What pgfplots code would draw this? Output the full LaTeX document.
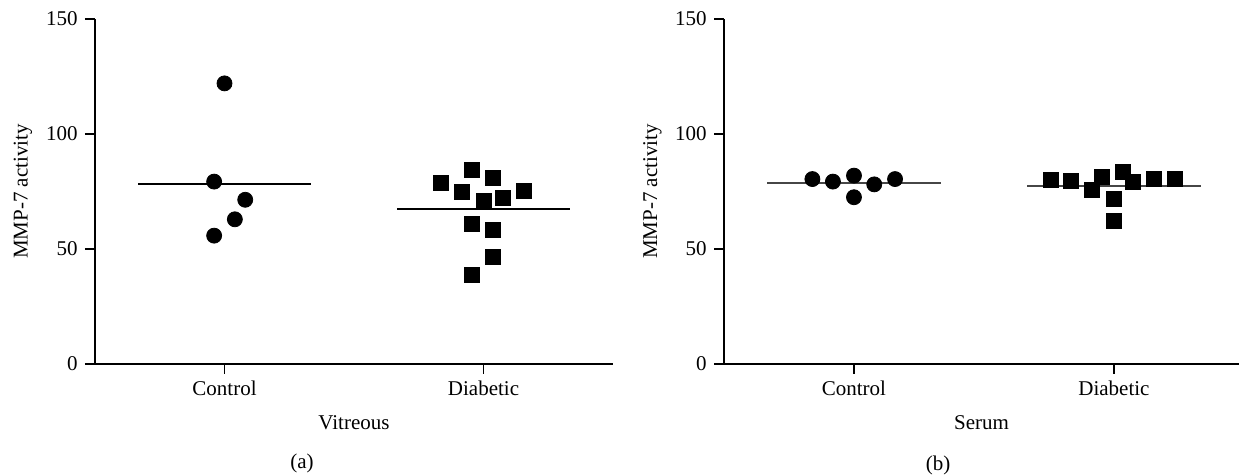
\documentclass[border=0pt]{standalone}
\usepackage{fontspec}
\setmainfont{Liberation Serif}
\usepackage{pgfplots}
\pgfplotsset{compat=1.18}
\definecolor{MEANB}{RGB}{70,70,70}

\pgfplotsset{mmp/.style={
    scale only axis,
    anchor=south west,
    height=172.5pt,
    axis x line*=bottom,
    axis y line*=left,
    axis line style={line width=0.9pt},
    every tick/.style={black, line width=0.9pt},
    tick align=outside,
    major tick length=5pt,
    ymin=0, ymax=150,
    ytick={0,50,100,150},
    xmin=-0.5,
    xtick={0,1},
    xticklabels={Control,Diabetic},
    /pgf/number format/assume math mode=true,
    ylabel={MMP-7 activity},
    every axis y label/.style={at={(axis description cs:-0.139,0.5)}, rotate=90, anchor=center},
    every axis x label/.style={at={(axis description cs:0.5,-0.171)}, anchor=center},
    clip=false,
}}

\begin{document}
\fontsize{10.5}{12.6}\selectfont
\begin{tikzpicture}
% (a) vitreous
\begin{axis}[mmp, at={(47.5pt,55.5pt)}, width=259pt, xmax=1.5, xlabel={Vitreous}]
\addplot[only marks, mark=*, mark size=3.75pt, black] coordinates {
    (0,122.0) (-0.04,79.3) (0.08,71.4) (0.04,62.9) (-0.04,55.8)
};
\addplot[black, line width=0.9pt] coordinates {(-0.333,78.3) (0.333,78.3)};
\addplot[only marks, mark=square*, mark size=3.75pt, black] coordinates {
    (0.837,78.6) (0.956,84.6) (1.036,80.7) (0.915,74.7) (1.0,71.0)
    (1.076,72.0) (1.156,75.3) (0.956,61.0) (1.036,58.3) (1.036,46.4)
    (0.956,38.8)
};
\addplot[black, line width=0.9pt] coordinates {(0.667,67.4) (1.333,67.4)};
\end{axis}
% (b) serum
\begin{axis}[mmp, at={(362pt,55.5pt)}, width=257.5pt, xmax=1.481, xlabel={Serum}]
\addplot[only marks, mark=*, mark size=3.75pt, black] coordinates {
    (-0.16,80.4) (-0.081,79.3) (0,81.9) (0.078,78.1) (0.158,80.4) (0,72.5)
};
\addplot[MEANB, line width=0.9pt] coordinates {(-0.333,78.8) (0.333,78.8)};
\addplot[only marks, mark=square*, mark size=3.75pt, black] coordinates {
    (0.756,80.0) (0.836,79.4) (0.915,75.7) (0.955,81.2) (1.0,71.9)
    (1.0,62.3) (1.035,83.5) (1.074,79.1) (1.154,80.3) (1.233,80.6)
};
\addplot[MEANB, line width=0.9pt] coordinates {(0.667,77.5) (1.333,77.5)};
\end{axis}
\node at (151pt,6pt) {(a)};
\node at (469pt,5pt) {(b)};
\pgfresetboundingbox
\useasboundingbox (0,0) rectangle (619.5pt,237.5pt);
\end{tikzpicture}
\end{document}
